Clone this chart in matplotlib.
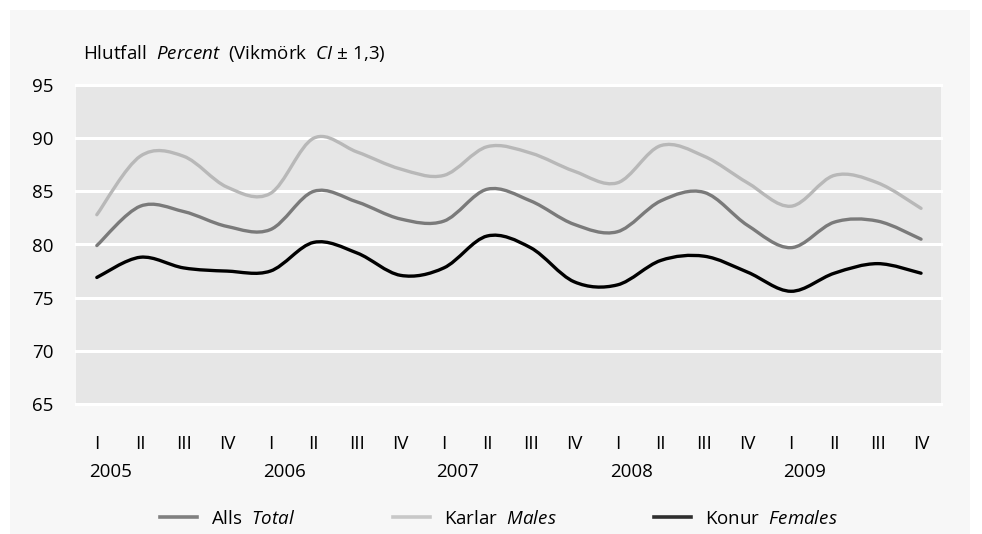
import numpy as np
import matplotlib
matplotlib.use("Agg")
import matplotlib.pyplot as plt
from matplotlib.path import Path
from matplotlib.patches import PathPatch, Rectangle
from matplotlib.lines import Line2D
import matplotlib.transforms as mtransforms

plt.rcParams['font.family'] = 'Open Sans'
plt.rcParams['mathtext.fontset'] = 'custom'
plt.rcParams['mathtext.rm'] = 'Open Sans'
plt.rcParams['mathtext.it'] = 'Open Sans:italic'

# Data (quarters 2005 Q1 .. 2009 Q4)
quarters = ['I', 'II', 'III', 'IV'] * 5
years = ['2005', '2006', '2007', '2008', '2009']
total = [79.9, 83.6, 83.1, 81.7, 81.4, 85.0, 84.0, 82.4, 82.2, 85.2,
         84.1, 81.9, 81.2, 84.1, 84.9, 81.8, 79.7, 82.1, 82.2, 80.5]
males = [82.8, 88.3, 88.3, 85.4, 84.8, 90.0, 88.7, 87.1, 86.5, 89.2,
         88.6, 86.9, 85.8, 89.3, 88.3, 85.8, 83.6, 86.5, 85.8, 83.4]
females = [76.9, 78.8, 77.8, 77.5, 77.5, 80.2, 79.2, 77.1, 77.8, 80.8,
           79.7, 76.5, 76.2, 78.5, 78.9, 77.4, 75.6, 77.3, 78.2, 77.3]

series = [
    ('Alls $\\ \\it{Total}$', total, '#7a7a7a', '#808080'),
    ('Karlar $\\ \\it{Males}$', males, '#b8b8b8', '#c8c8c8'),
    ('Konur $\\ \\it{Females}$', females, '#000000', '#2e2e2e'),
]


def smooth_path(x, y):
    """Bezier path through the points (like a spreadsheet 'smoothed line')."""
    pts = np.column_stack([x, y]).astype(float)
    n = len(pts)
    verts = [pts[0]]
    codes = [Path.MOVETO]
    for i in range(n - 1):
        p0 = pts[max(i - 1, 0)]
        p1 = pts[i]
        p2 = pts[i + 1]
        p3 = pts[min(i + 2, n - 1)]
        c1 = p1 + (p2 - p0) / 6.0
        c2 = p2 - (p3 - p1) / 6.0
        verts += [c1, c2, p2]
        codes += [Path.CURVE4] * 3
    return Path(verts, codes)


fig = plt.figure(figsize=(9.82, 5.34), dpi=100, facecolor='white')
fig.patches.append(Rectangle((10 / 982, 0), 960 / 982, 524 / 534,
                             transform=fig.transFigure, facecolor='#f7f7f7',
                             edgecolor='none', zorder=-10))

ax = fig.add_axes([76 / 982, 1 - 404 / 534, 865 / 982, 319 / 534])
ax.set_facecolor('#e6e6e6')
for s in ax.spines.values():
    s.set_visible(False)

x = np.arange(len(quarters))
for label, vals, color, _ in series:
    patch = PathPatch(smooth_path(x, vals), facecolor='none', edgecolor=color,
                      lw=2.4, capstyle='round', zorder=3)
    ax.add_patch(patch)

ax.set_xlim(-0.48, 19.46)
ax.set_ylim(65, 95)
ax.set_yticks(range(65, 96, 5))
for v in range(65, 96, 5):
    ax.axhline(v, color='white', lw=2.2, zorder=1, clip_on=False)

ax.tick_params(axis='y', length=0, pad=16, labelsize=13.5)
ax.set_xticks(x)
ax.set_xticklabels(quarters)
ax.tick_params(axis='x', length=0, pad=22.5, labelsize=13.5)

trans = mtransforms.blended_transform_factory(ax.transData, ax.transAxes)
for i, yr in enumerate(years):
    ax.text(i * 4 - 0.17, -0.213, yr, transform=trans, ha='left', va='center',
            fontsize=13.5)

fig.text(83 / 982, 1 - 53 / 534,
         'Hlutfall $\\ \\it{Percent}$  (Vikmörk $\\ \\it{CI}$ ± 1,3)',
         ha='left', va='center', fontsize=13.5)

handles = [Line2D([], [], color=c, lw=2.6) for _, _, _, c in series]
fig.legend(handles, [s[0] for s in series], loc='center', ncol=3,
           bbox_to_anchor=(0.508, 1 - 519 / 534), frameon=False, fontsize=13.5,
           handlelength=1.97, handletextpad=0.75, columnspacing=5.2)

fig.savefig('out.png', dpi=100, facecolor='white')
